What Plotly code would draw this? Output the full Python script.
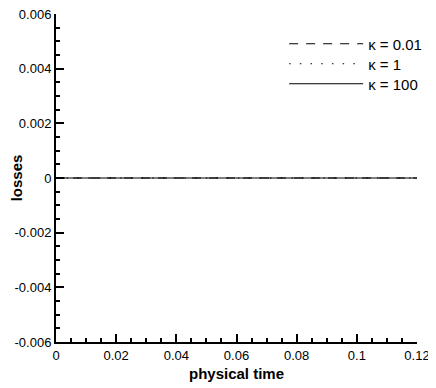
import plotly.graph_objects as go

# Data
time = [0.0, 0.02, 0.04, 0.06, 0.08, 0.10, 0.12]
loss_k001 = [0, 0, 0, 0, 0, 0, 0]
loss_k1 = [0, 0, 0, 0, 0, 0, 0]
loss_k100 = [0, 0, 0, 0, 0, 0, 0]
series_names = ["κ = 0.01", "κ = 1", "κ = 100"]
x_ticks = [0, 0.02, 0.04, 0.06, 0.08, 0.1, 0.12]
x_tick_labels = ["0", "0.02", "0.04", "0.06", "0.08", "0.1", "0.12"]
y_ticks = [-0.006, -0.004, -0.002, 0, 0.002, 0.004, 0.006]
y_tick_labels = ["-0.006", "-0.004", "-0.002", "0", "0.002", "0.004", "0.006"]

FONT = "Liberation Sans, Arial, Helvetica"
dashes = ["9px,8px", "1.5px,9.2px", "solid"]
legend_ids = ["legend", "legend2", "legend3"]
legend_y = [0.9085, 0.8476, 0.7866]

fig = go.Figure()
for vals, name, dash, lid in zip([loss_k001, loss_k1, loss_k100], series_names,
                                 dashes, legend_ids):
    fig.add_trace(go.Scatter(x=time, y=vals, mode="lines", name=name,
                             legend=lid,
                             line=dict(color="black", width=1, dash=dash)))

axis_common = dict(
    showline=True, linecolor="black", linewidth=2, mirror=False,
    ticks="inside", ticklen=8, tickwidth=2, tickcolor="black",
    showgrid=False, zeroline=False, automargin=False,
    ticklabeloverflow="allow",
    tickfont=dict(family=FONT, size=13, color="black"),
)

fig.update_xaxes(
    range=[0, 0.12], tickvals=x_ticks, ticktext=x_tick_labels,
    minor=dict(dtick=0.005, ticks="inside", ticklen=4, tickwidth=1.5,
               tickcolor="black", showgrid=False),
    title=dict(text="<b>physical time</b>", standoff=7,
               font=dict(family=FONT, size=15, color="black")),
    **axis_common,
)
fig.update_yaxes(
    range=[-0.006, 0.006], tickvals=y_ticks, ticktext=y_tick_labels,
    minor=dict(dtick=0.0005, ticks="inside", ticklen=4, tickwidth=1.5,
               tickcolor="black", showgrid=False),
    title=dict(text="<b>losses</b>", standoff=8,
               font=dict(family=FONT, size=15, color="black")),
    **axis_common,
)

leg_common = dict(xanchor="left", yanchor="middle", x=0.632,
                  bgcolor="rgba(0,0,0,0)", itemwidth=74, borderwidth=0,
                  font=dict(family=FONT, size=15, color="black"))
layout_legends = {lid: dict(y=ly, **leg_common) for lid, ly in zip(legend_ids, legend_y)}

# The page body has an 8px margin, so the figure is sized to fit inside it.
fig.update_layout(
    width=428, height=380,
    margin=dict(l=48, r=19, t=6, b=46),
    plot_bgcolor="white", paper_bgcolor="white",
    showlegend=True,
    **layout_legends,
)

fig.write_html("out.html", config={"displayModeBar": False})
